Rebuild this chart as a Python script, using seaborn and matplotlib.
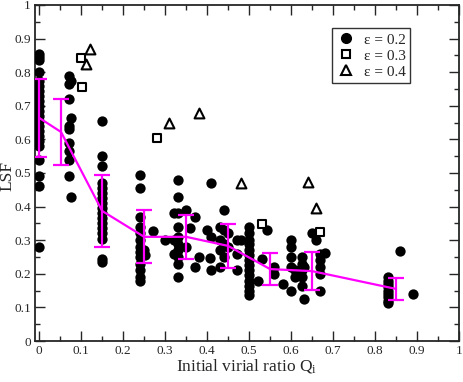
import numpy as np
import pandas as pd
import seaborn as sns
import matplotlib.pyplot as plt
from matplotlib.ticker import MultipleLocator, FormatStrFormatter
from matplotlib.lines import Line2D

# eps = 0.2 runs (filled circles)
q02 = ([0.0] * 22
       + [0.07, 0.075, 0.072, 0.07, 0.075, 0.07, 0.072, 0.07, 0.072, 0.07, 0.072, 0.075]
       + [0.15] * 17
       + [0.24] * 13 + [0.27, 0.252, 0.25]
       + [0.33, 0.33, 0.33, 0.33, 0.33, 0.33, 0.33, 0.33, 0.33, 0.33, 0.32, 0.32, 0.32,
          0.30, 0.35, 0.372, 0.36, 0.35, 0.38, 0.37]
       + [0.41, 0.40, 0.41, 0.407, 0.41, 0.43, 0.43, 0.43, 0.43, 0.44, 0.45, 0.45,
          0.44, 0.44, 0.44, 0.47, 0.48, 0.47, 0.47]
       + [0.50] * 14
       + [0.53, 0.52, 0.543, 0.56, 0.56, 0.58]
       + [0.60, 0.60, 0.60, 0.60, 0.60, 0.61, 0.61]
       + [0.627, 0.627, 0.627, 0.627, 0.627, 0.63, 0.63]
       + [0.65, 0.66, 0.67, 0.67, 0.67, 0.67, 0.68, 0.67]
       + [0.83] * 9 + [0.86, 0.89])
lsf02 = ([0.855, 0.845, 0.835, 0.80, 0.775, 0.76, 0.745, 0.73, 0.715, 0.70, 0.685,
          0.67, 0.655, 0.64, 0.625, 0.61, 0.595, 0.58, 0.54, 0.49, 0.46, 0.28]
         + [0.79, 0.775, 0.765, 0.72, 0.665, 0.64, 0.63, 0.59, 0.565, 0.54, 0.49, 0.428]
         + [0.655, 0.55, 0.52, 0.47, 0.455, 0.44, 0.425, 0.41, 0.395, 0.38, 0.365,
            0.35, 0.335, 0.32, 0.305, 0.245, 0.235]
         + [0.494, 0.455, 0.37, 0.34, 0.32, 0.30, 0.28, 0.265, 0.25, 0.23, 0.21,
            0.19, 0.18, 0.328, 0.255, 0.27]
         + [0.48, 0.43, 0.38, 0.34, 0.31, 0.29, 0.27, 0.25, 0.23, 0.19, 0.38, 0.30,
            0.26, 0.30, 0.39, 0.37, 0.336, 0.28, 0.25, 0.22]
         + [0.47, 0.33, 0.31, 0.247, 0.21, 0.34, 0.30, 0.27, 0.22, 0.39, 0.32, 0.28,
            0.33, 0.29, 0.25, 0.30, 0.30, 0.26, 0.21]
         + [0.34, 0.32, 0.30, 0.29, 0.27, 0.255, 0.24, 0.225, 0.21, 0.195, 0.18,
            0.165, 0.15, 0.137]
         + [0.245, 0.18, 0.33, 0.22, 0.20, 0.17]
         + [0.30, 0.28, 0.25, 0.22, 0.15, 0.21, 0.19]
         + [0.25, 0.23, 0.21, 0.19, 0.165, 0.125, 0.22]
         + [0.32, 0.30, 0.26, 0.24, 0.22, 0.20, 0.262, 0.15]
         + [0.19, 0.18, 0.17, 0.16, 0.15, 0.14, 0.13, 0.12, 0.113, 0.268, 0.14])

# eps = 0.3 (open squares) and eps = 0.4 (open triangles)
q03 = [0.10, 0.102, 0.28, 0.53, 0.67]
lsf03 = [0.843, 0.757, 0.605, 0.347, 0.325]
q04 = [0.122, 0.112, 0.31, 0.38, 0.48, 0.64, 0.66]
lsf04 = [0.868, 0.825, 0.65, 0.678, 0.47, 0.474, 0.395]

# binned mean and spread (magenta)
q_bin = [0.0, 0.052, 0.15, 0.25, 0.35, 0.45, 0.55, 0.65, 0.85]
lsf_mean = [0.664, 0.622, 0.387, 0.31, 0.31, 0.283, 0.214, 0.208, 0.155]
lsf_err = [0.117, 0.098, 0.107, 0.079, 0.065, 0.065, 0.048, 0.057, 0.033]

sns.set_style("ticks")
plt.rcParams['font.family'] = ['Liberation Serif', 'DejaVu Serif']
plt.rcParams['mathtext.fontset'] = 'stix'

fig = plt.figure(figsize=(4.63, 3.82), dpi=100)
ax = fig.add_axes([0.0756, 0.1073, 0.9158, 0.8797])

df02 = pd.DataFrame({'Q': q02, 'LSF': lsf02})
df03 = pd.DataFrame({'Q': q03, 'LSF': lsf03})
df04 = pd.DataFrame({'Q': q04, 'LSF': lsf04})
sns.scatterplot(data=df02, x='Q', y='LSF', ax=ax, color='black', marker='o',
                s=55, linewidth=0, zorder=3)
sns.scatterplot(data=df03, x='Q', y='LSF', ax=ax, marker='s', s=36,
                facecolor='white', edgecolor='black', linewidth=1.5, zorder=4)
sns.scatterplot(data=df04, x='Q', y='LSF', ax=ax, marker='^', s=50,
                facecolor='white', edgecolor='black', linewidth=1.5, zorder=4)

dfm = pd.DataFrame({'Q': q_bin, 'LSF': lsf_mean})
sns.lineplot(data=dfm, x='Q', y='LSF', ax=ax, color='#ff00ff', linewidth=1.6, zorder=5)
ax.errorbar(q_bin, lsf_mean, yerr=lsf_err, fmt='none', ecolor='#ff00ff',
            elinewidth=1.6, capsize=6, capthick=1.6, zorder=5)

ax.set_xlim(-0.01, 1)
ax.set_ylim(0, 1)
ax.xaxis.set_major_locator(MultipleLocator(0.1))
ax.xaxis.set_minor_locator(MultipleLocator(0.05))
ax.yaxis.set_major_locator(MultipleLocator(0.1))
ax.yaxis.set_minor_locator(MultipleLocator(0.05))
ax.xaxis.set_major_formatter(FormatStrFormatter('%g'))
ax.yaxis.set_major_formatter(FormatStrFormatter('%g'))
ax.tick_params(which='both', direction='in', top=True, right=True, labelsize=9.5,
               width=1, pad=3)
ax.tick_params(which='major', length=7)
ax.tick_params(which='minor', length=3.5)
for sp in ax.spines.values():
    sp.set_linewidth(1.3)

ax.set_xlabel(r'Initial virial ratio Q$_\mathregular{i}$', fontsize=12.5, labelpad=0)
ax.set_ylabel('LSF', fontsize=12.5)
ax.yaxis.set_label_coords(-0.045, 0.49)

handles = [Line2D([], [], marker='o', color='black', linestyle='none', markersize=7),
           Line2D([], [], marker='s', markerfacecolor='white', markeredgecolor='black',
                  markeredgewidth=1.5, linestyle='none', markersize=6),
           Line2D([], [], marker='^', markerfacecolor='white', markeredgecolor='black',
                  markeredgewidth=1.5, linestyle='none', markersize=7)]
leg = ax.legend(handles, ['ε = 0.2', 'ε = 0.3', 'ε = 0.4'], loc='upper left',
                bbox_to_anchor=(0.70, 0.93), frameon=True, fancybox=False,
                fontsize=11, handletextpad=0.6, borderpad=0.3, labelspacing=0.15,
                handlelength=1.2, borderaxespad=0)
leg.get_frame().set_edgecolor('black')
leg.get_frame().set_linewidth(1.0)

fig.savefig('out.png', dpi=100)
